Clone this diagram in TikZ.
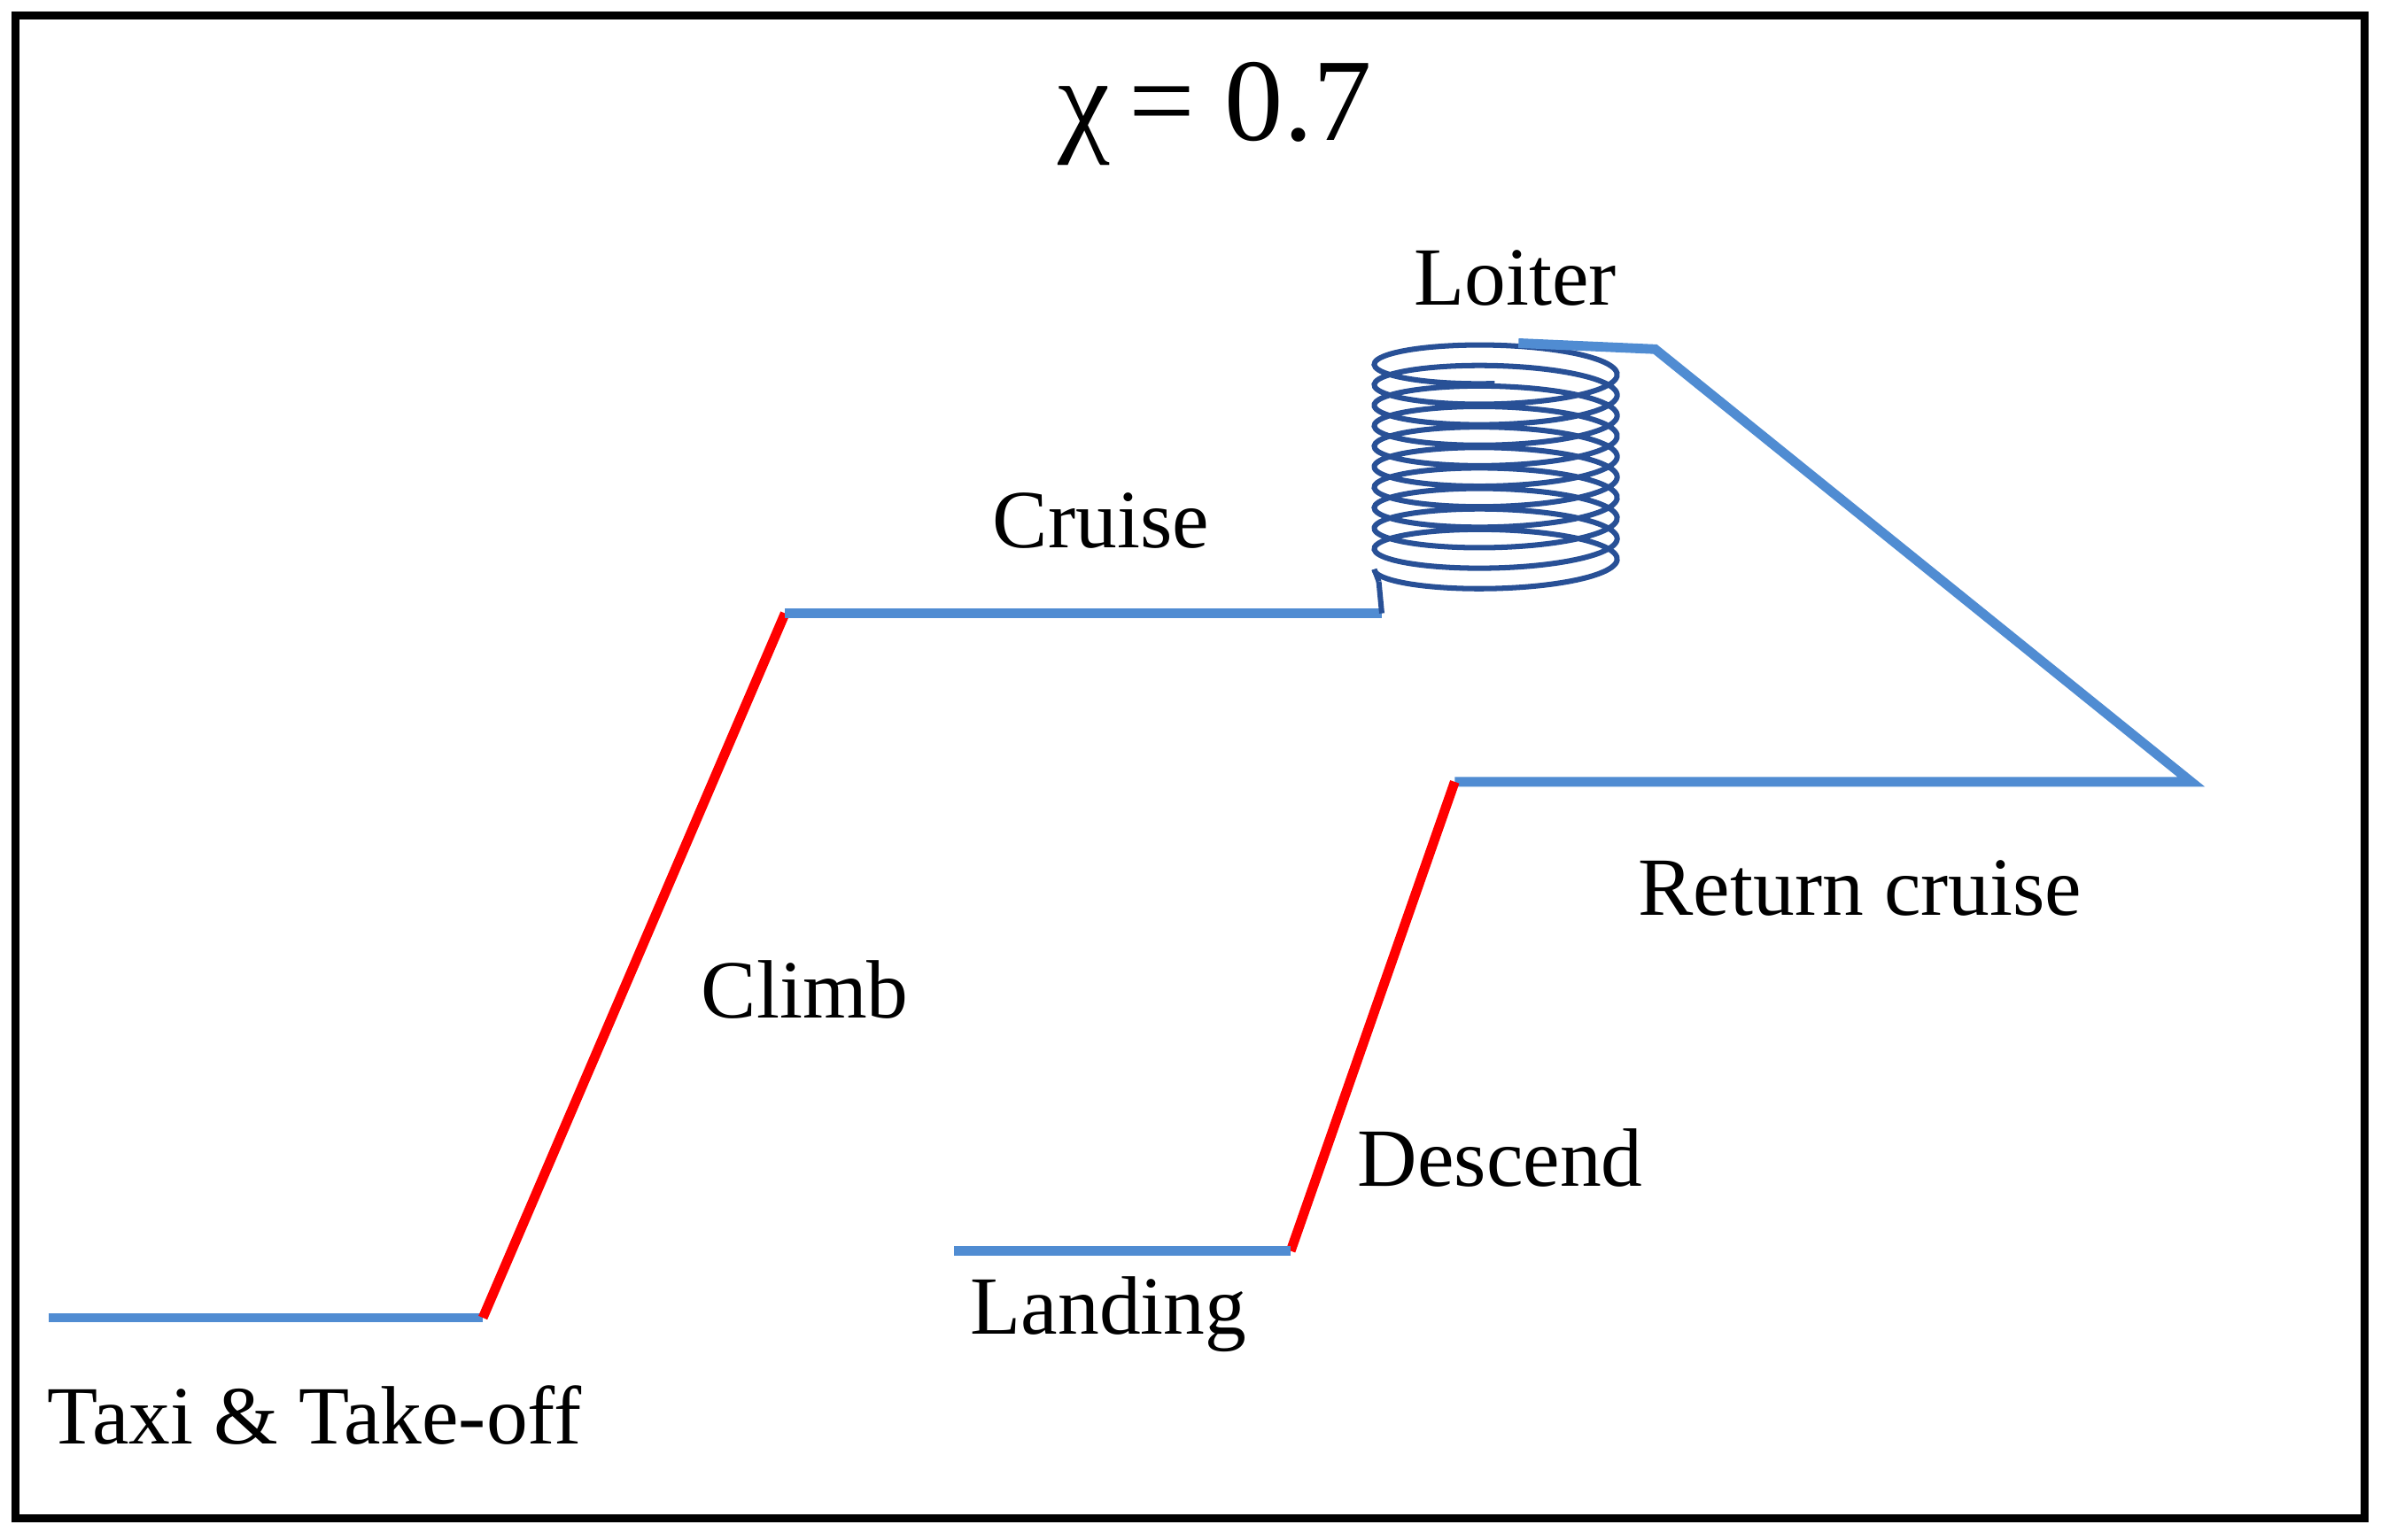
\documentclass[tikz,border=0pt]{standalone}
\usepackage{fontspec}
\setmainfont{Liberation Serif}
\tikzset{
	leg/.style = {line width=1.8pt, color=legblue},
	rise/.style = {line width=1.8pt, color=red},
	lbl/.style = {font=\fontsize{15.5}{18}\selectfont, inner sep=0pt}
}
\definecolor{legblue}{RGB}{80,140,210}
\definecolor{coilblue}{RGB}{40,80,150}
\begin{document}
\begin{tikzpicture}[x=0.01cm, y=-0.01cm]
	\useasboundingbox (0,0) rectangle (1568,1014);
	\draw [line width=1.5pt] (10,10) rectangle (1557,1000);
	
	% corners of the mission profile
	\coordinate (taxi) at (32,868);
	\coordinate (climbstart) at (318,868);
	\coordinate (climbend) at (517,404);
	\coordinate (cruiseend) at (910,404);
	\coordinate (coilstart) at (908,383);
	\coordinate (coiltop) at (1000,226);
	\coordinate (loiterexit) at (1090,230);
	\coordinate (turn) at (1443,515);
	\coordinate (descstart) at (958,515);
	\coordinate (descend) at (850,824);
	\coordinate (landend) at (628,824);
	
	% legs
	\draw [leg] (taxi) -- (climbstart);
	\draw [rise] (climbstart) -- (climbend);
	\draw [leg] (climbend) -- (cruiseend);
	\draw [line width=1pt, color=coilblue] (cruiseend) -- (coilstart);
	\draw [line width=1pt, color=coilblue, domain=0:10.25, samples=500, smooth]
		plot ({985-80*cos(\x*360)}, {375-13.5*\x+16*sin(\x*360)});
	\draw [line width=1pt, color=coilblue] (905,375) -- (coilstart);
	\draw [leg] (coiltop) -- (loiterexit) -- (turn) -- (descstart);
	\draw [rise] (descstart) -- (descend);
	\draw [leg] (descend) -- (landend);
	
	% labels
	\node [font=\fontsize{22}{26}\selectfont] (chi) at (800,75) {χ\,= 0.7};
	\node [lbl] (loiter) at (998,183) {Loiter};
	\node [lbl] (cruise) at (725,343) {Cruise};
	\node [lbl] (climb) at (530,652) {Climb};
	\node [lbl] (ret) at (1225,585) {Return cruise};
	\node [lbl] (desc) at (988,763) {Descend};
	\node [lbl] (land) at (730,866) {Landing};
	\node [lbl] (takeoff) at (207,932) {Taxi \& Take-off};
\end{tikzpicture}
\end{document}
